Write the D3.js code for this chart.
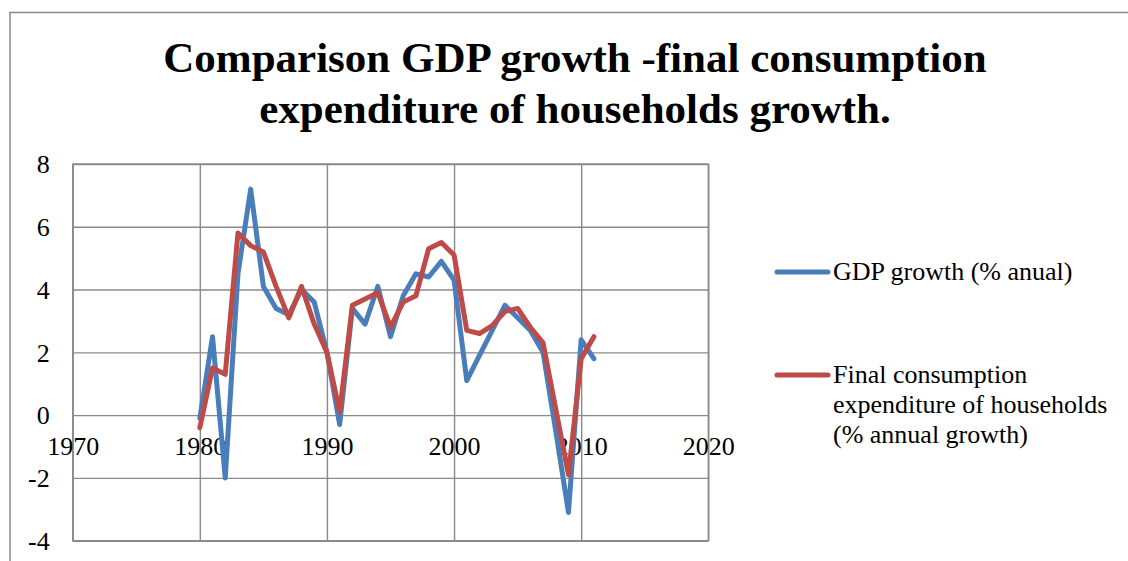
<!DOCTYPE html>
<html>
<head>
<meta charset="utf-8">
<script src="https://cdn.jsdelivr.net/npm/d3@7"></script>
<style>
  html, body { margin: 0; padding: 0; background: #fff; }
  svg { display: block; }
  svg text { font-family: "Liberation Serif", "Times New Roman", serif !important; fill: #000; }
</style>
</head>
<body>
<svg id="chart" width="1128" height="561"></svg>
<script>
// Annual growth rates, 1980–2011
const years = d3.range(1980, 2012);
const gdpGrowth = [
  -0.1, 2.5, -2.0, 4.5, 7.2, 4.1, 3.4, 3.2, 4.0, 3.6,
   2.0, -0.3, 3.4, 2.9, 4.1, 2.5, 3.8, 4.5, 4.4, 4.9,
   4.3, 1.1, 1.9, 2.7, 3.5, 3.1, 2.7, 2.0, -0.5, -3.1,
   2.4, 1.8
];
const consumptionGrowth = [
  -0.4, 1.5, 1.3, 5.8, 5.4, 5.2, 4.1, 3.1, 4.1, 2.9,
   2.0, 0.1, 3.5, 3.7, 3.9, 2.8, 3.6, 3.8, 5.3, 5.5,
   5.1, 2.7, 2.6, 2.85, 3.3, 3.4, 2.8, 2.3, 0.2, -1.9,
   1.8, 2.5
];
const xTicks = [1970, 1980, 1990, 2000, 2010, 2020];
const yTicks = [-4, -2, 0, 2, 4, 6, 8];
const titleLines = ["Comparison GDP growth -final consumption", "expenditure of households growth."];
const seriesNames = ["GDP growth (% anual)", "Final consumption\nexpenditure of households\n(% annual growth)"];
const seriesColors = ["#4a7ebb", "#be4b48"];

const serif = '"Liberation Serif", "Times New Roman", serif';
const svg = d3.select("#chart");
const gridColor = "#8a8a8a";

// chart frame
svg.append("path")
  .attr("d", "M10,561V12.5H1128")
  .attr("fill", "none")
  .attr("stroke", gridColor)
  .attr("stroke-width", 1.5);

// title
svg.append("g").selectAll("text")
  .data(titleLines)
  .join("text")
  .attr("x", 575)
  .attr("y", (d, i) => 72 + i * 51)
  .attr("text-anchor", "middle")
  .style("font-family", serif)
  .style("font-size", "43px")
  .style("font-weight", "bold")
  .text(d => d);

const plot = { left: 72.7, right: 708.3, top: 164, bottom: 540.7 };
const x = d3.scaleLinear().domain([1970, 2020]).range([plot.left, plot.right]);
const y = d3.scaleLinear().domain([-4, 8]).range([plot.bottom, plot.top]);

// horizontal gridlines + y labels
const yAxis = svg.append("g")
  .attr("transform", `translate(${plot.left},0)`)
  .call(d3.axisLeft(y).tickValues(yTicks).tickSize(-(plot.right - plot.left)).tickPadding(23).tickFormat(d3.format("d")));
yAxis.select(".domain").remove();
yAxis.selectAll(".tick line").attr("stroke", gridColor).attr("stroke-width", 1.4);
yAxis.selectAll(".tick text")
  .style("font-family", serif)
  .style("font-size", "26px")
  .attr("fill", "#000")
  .attr("dy", "0.34em")
  .text(d => d < 0 ? "-" + Math.abs(d) : d);

// vertical gridlines
const xGrid = svg.append("g")
  .attr("transform", `translate(0,${plot.bottom})`)
  .call(d3.axisBottom(x).tickValues(xTicks).tickSize(-(plot.bottom - plot.top)).tickFormat(""));
xGrid.select(".domain").remove();
xGrid.selectAll(".tick line").attr("stroke", gridColor).attr("stroke-width", 1.4);

// plot border
svg.append("rect")
  .attr("x", plot.left).attr("y", plot.top)
  .attr("width", plot.right - plot.left).attr("height", plot.bottom - plot.top)
  .attr("fill", "none").attr("stroke", gridColor).attr("stroke-width", 1.4);

// x labels sit along the zero line
const xAxis = svg.append("g")
  .attr("transform", `translate(0,${y(0)})`)
  .call(d3.axisBottom(x).tickValues(xTicks).tickSize(0).tickPadding(0).tickFormat(d3.format("d")));
xAxis.select(".domain").remove();
xAxis.selectAll(".tick text")
  .style("font-family", serif)
  .style("font-size", "26px")
  .attr("fill", "#000")
  .attr("y", 40)
  .attr("dy", 0);

// series lines
const line = d3.line().x(d => x(d[0])).y(d => y(d[1]));
[gdpGrowth, consumptionGrowth].forEach((vals, i) => {
  svg.append("path")
    .datum(years.map((yr, k) => [yr, vals[k]]))
    .attr("d", line)
    .attr("fill", "none")
    .attr("stroke", seriesColors[i])
    .attr("stroke-width", 5)
    .attr("stroke-linejoin", "round")
    .attr("stroke-linecap", "round");
});

// legend
const legendRows = [272, 375];
seriesNames.forEach((name, i) => {
  const g = svg.append("g");
  g.append("line")
    .attr("x1", 777).attr("x2", 828)
    .attr("y1", legendRows[i]).attr("y2", legendRows[i])
    .attr("stroke", seriesColors[i]).attr("stroke-width", 5)
    .attr("stroke-linecap", "round");
  g.selectAll("text")
    .data(name.split("\n"))
    .join("text")
    .attr("x", 833)
    .attr("y", (d, k) => legendRows[i] + 8 + k * 30)
    .style("font-family", serif)
    .style("font-size", "26px")
    .text(d => d);
});
</script>
</body>
</html>
